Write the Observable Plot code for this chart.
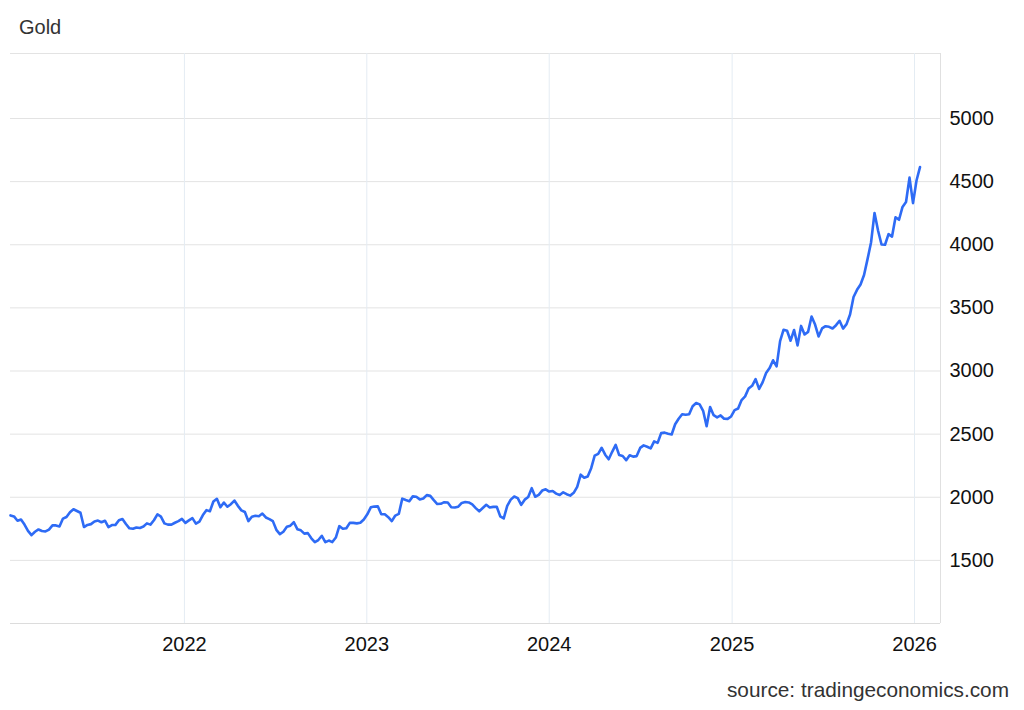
<!DOCTYPE html>
<html>
<head>
<meta charset="utf-8">
<script src="https://cdn.jsdelivr.net/npm/d3@7"></script>
<script src="https://cdn.jsdelivr.net/npm/@observablehq/plot@0.6"></script>
<style>
  html, body { margin: 0; padding: 0; background: #ffffff; }
  body { width: 1024px; height: 710px; overflow: hidden; font-family: "Liberation Sans", Arial, Helvetica, sans-serif; }
  #title { font-size: 20px; line-height: 24px; color: #333333; padding: 15px 0 0 19px; height: 30px; box-sizing: content-box; }
  #chart svg { display: block; }
  #source { font-size: 20.8px; line-height: 24px; color: #333333; text-align: right; padding: 20px 15px 0 0; }
</style>
</head>
<body>
<div id="title">Gold</div>
<div id="chart"></div>
<div id="source">source: tradingeconomics.com</div>
<script>
// Weekly gold price (USD/oz), each value stamped on the Monday of its week
const firstWeek = "2021-01-18";
const gold2021 = [1856, 1848, 1814, 1824, 1784, 1734, 1700, 1727, 1745, 1733,
  1729, 1744, 1777, 1777, 1769, 1831, 1844, 1881, 1905, 1891,
  1877, 1764, 1781, 1787, 1808, 1815, 1802, 1814, 1763, 1780,
  1781, 1818, 1827, 1788, 1754, 1750, 1761, 1757, 1768, 1793,
  1783, 1818, 1865, 1846, 1793, 1783, 1783, 1798, 1811, 1829];
const gold2022 = [1797, 1817, 1835, 1791, 1807, 1859, 1898, 1889, 1966, 1988,
  1921, 1958, 1925, 1945, 1974, 1932, 1896, 1883, 1811, 1846,
  1853, 1850, 1871, 1840, 1827, 1811, 1742, 1708, 1727, 1766,
  1775, 1802, 1747, 1738, 1712, 1716, 1675, 1644, 1661, 1695,
  1644, 1657, 1645, 1681, 1771, 1751, 1755, 1797, 1797, 1793,
  1798, 1824];
const gold2023 = [1865, 1920, 1926, 1928, 1865, 1865, 1842, 1811, 1855, 1868,
  1989, 1978, 1969, 2007, 2004, 1983, 1990, 2017, 2011, 1977,
  1946, 1948, 1961, 1958, 1921, 1919, 1925, 1955, 1962, 1959,
  1943, 1914, 1889, 1915, 1940, 1919, 1924, 1925, 1849, 1832,
  1932, 1981, 2006, 1993, 1940, 1981, 2002, 2072, 2004, 2019,
  2053, 2063];
const gold2024 = [2045, 2049, 2029, 2018, 2039, 2024, 2013, 2035, 2083, 2179,
  2155, 2165, 2230, 2329, 2344, 2392, 2337, 2301, 2360, 2415,
  2334, 2327, 2294, 2333, 2322, 2326, 2391, 2411, 2400, 2387,
  2443, 2431, 2508, 2512, 2503, 2497, 2578, 2622, 2658, 2653,
  2657, 2721, 2747, 2736, 2685, 2563, 2715, 2650, 2633, 2648,
  2622, 2621];
const gold2025 = [2640, 2690, 2703, 2770, 2799, 2861, 2883, 2936, 2858, 2910,
  2984, 3023, 3085, 3037, 3237, 3327, 3319, 3240, 3325, 3203,
  3357, 3289, 3310, 3432, 3368, 3274, 3337, 3355, 3350, 3337,
  3363, 3398, 3336, 3371, 3448, 3586, 3643, 3685, 3760, 3886,
  4018, 4252, 4113, 4002, 4000, 4084, 4065, 4218, 4198, 4300,
  4339, 4532];
const gold2026 = [4330, 4509, 4615];

const yTicks = [1500, 2000, 2500, 3000, 3500, 4000, 4500, 5000];
const yGrid = [1500, 2000, 2500, 3000, 3500, 4000, 4500, 5000];
const yearTicks = ["2022-01-01", "2023-01-01", "2024-01-01", "2025-01-01", "2026-01-01"];
const xStart = "2021-01-18";
const xEnd = "2026-02-22";
const yMin = 1000;
const yMax = 5515;

const values = [...gold2021, ...gold2022, ...gold2023, ...gold2024, ...gold2025, ...gold2026];
const start = new Date(firstWeek + "T00:00:00Z");
const data = values.map((v, i) => ({date: d3.utcWeek.offset(start, i), value: v}));
const years = yearTicks.map(s => new Date(s + "T00:00:00Z"));
const x0 = new Date(xStart + "T00:00:00Z");
const x1 = new Date(xEnd + "T00:00:00Z");

const chart = Plot.plot({
  width: 1024,
  height: 613,
  marginTop: 8,
  marginBottom: 35,
  marginLeft: 10,
  marginRight: 84,
  style: {fontFamily: "'Liberation Sans', Arial, Helvetica, sans-serif", fontSize: "20px", color: "#000", background: "#ffffff"},
  x: {type: "utc", domain: [x0, x1], axis: null, label: null},
  y: {domain: [yMin, yMax], axis: null, label: null},
  marks: [
    Plot.ruleY(yGrid, {stroke: "#e3e3e3", strokeWidth: 1}),
    Plot.ruleY([yMax], {stroke: "#e3e3e3", strokeWidth: 1}),
    Plot.ruleX(years, {y1: yMin, y2: yMax, stroke: "#e4ecf3", strokeWidth: 1}),
    Plot.ruleX([x1], {y1: yMin, y2: yMax, stroke: "#e0e0e0", strokeWidth: 1}),
    Plot.ruleY([yMin], {stroke: "#dcdcdc", strokeWidth: 1}),
    Plot.axisY(yTicks, {anchor: "right", label: null, tickSize: 0, tickPadding: 9, tickFormat: d3.format("d"), fill: "#111", fontSize: 20}),
    Plot.axisX(years, {anchor: "bottom", label: null, tickSize: 0, tickPadding: 13, tickFormat: d3.utcFormat("%Y"), fill: "#111", fontSize: 20}),
    Plot.line(data, {x: "date", y: "value", stroke: "#2e6bf5", strokeWidth: 2.6, strokeLinejoin: "round", strokeLinecap: "round"})
  ]
});
document.getElementById("chart").appendChild(chart);
</script>
</body>
</html>
